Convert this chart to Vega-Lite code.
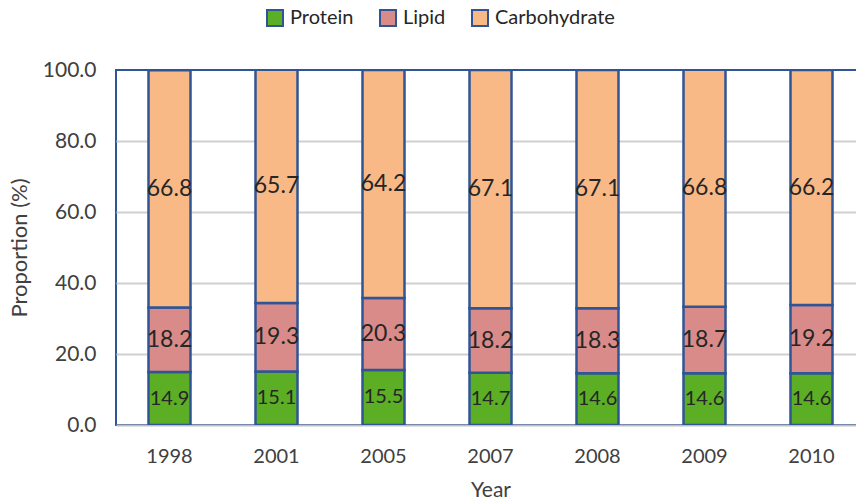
{
  "$schema": "https://vega.github.io/schema/vega-lite/v6.json",
  "autosize": "none",
  "width": 749,
  "height": 355,
  "padding": {"left": 116, "top": 70, "right": 0, "bottom": 77},
  "background": "white",
  "config": {"font": "Lato", "view": {"stroke": "#2F5597", "strokeWidth": 2}},
  "data": {"values": [
    {"year": "1998", "type": "Protein", "value": 14.9},
    {"year": "1998", "type": "Lipid", "value": 18.2},
    {"year": "1998", "type": "Carbohydrate", "value": 66.8},
    {"year": "2001", "type": "Protein", "value": 15.1},
    {"year": "2001", "type": "Lipid", "value": 19.3},
    {"year": "2001", "type": "Carbohydrate", "value": 65.7},
    {"year": "2005", "type": "Protein", "value": 15.5},
    {"year": "2005", "type": "Lipid", "value": 20.3},
    {"year": "2005", "type": "Carbohydrate", "value": 64.2},
    {"year": "2007", "type": "Protein", "value": 14.7},
    {"year": "2007", "type": "Lipid", "value": 18.2},
    {"year": "2007", "type": "Carbohydrate", "value": 67.1},
    {"year": "2008", "type": "Protein", "value": 14.6},
    {"year": "2008", "type": "Lipid", "value": 18.3},
    {"year": "2008", "type": "Carbohydrate", "value": 67.1},
    {"year": "2009", "type": "Protein", "value": 14.6},
    {"year": "2009", "type": "Lipid", "value": 18.7},
    {"year": "2009", "type": "Carbohydrate", "value": 66.8},
    {"year": "2010", "type": "Protein", "value": 14.6},
    {"year": "2010", "type": "Lipid", "value": 19.2},
    {"year": "2010", "type": "Carbohydrate", "value": 66.2}
  ]},
  "transform": [
    {"stack": "value", "groupby": ["year"], "sort": [{"field": "type", "order": "descending"}], "as": ["y0", "y1"]},
    {"calculate": "(datum.y0 + datum.y1) / 2", "as": "mid"}
  ],
  "encoding": {
    "x": {
      "field": "year", "type": "ordinal",
      "scale": {"paddingInner": 0.59, "paddingOuter": 0.295},
      "axis": {
        "labelAngle": 0, "labelFontSize": 20, "labelColor": "#404040", "labelPadding": 21,
        "ticks": false, "domainColor": "#BFBFBF", "domainWidth": 2,
        "title": "Year", "titleFontSize": 21, "titleFontWeight": "normal", "titleColor": "#404040", "titlePadding": 13
      }
    }
  },
  "layer": [
    {
      "mark": {"type": "bar", "stroke": "#2F5597", "strokeWidth": 2.5, "width": 42, "clip": true},
      "encoding": {
        "y": {
          "field": "y0", "type": "quantitative",
          "scale": {"domain": [0, 100]},
          "axis": {
            "values": [0, 20, 40, 60, 80, 100], "format": ".1f",
            "labelFontSize": 21, "labelColor": "#404040", "labelPadding": 20,
            "ticks": false, "domain": false,
            "grid": true, "gridWidth": 2,
            "gridColor": {"condition": {"test": "datum.value === 100 || datum.value === 0", "value": "transparent"}, "value": "#D0D0D0"},
            "title": "Proportion (%)", "titleFontSize": 22, "titleFontWeight": "normal", "titleColor": "#404040", "titlePadding": 11
          }
        },
        "y2": {"field": "y1"},
        "color": {
          "field": "type", "type": "nominal",
          "scale": {"domain": ["Protein", "Lipid", "Carbohydrate"], "range": ["#5CAE24", "#D88B89", "#F9B987"]},
          "legend": {
            "orient": "none", "legendX": 149, "legendY": -62, "direction": "horizontal",
            "title": null, "symbolType": "square", "symbolSize": 256,
            "symbolStrokeColor": "#2F5597", "symbolStrokeWidth": 2, "symbolOpacity": 1,
            "labelFontSize": 20, "labelColor": "#262626", "columnPadding": 22, "labelOffset": 5
          }
        }
      }
    },
    {
      "transform": [{"filter": "datum.type != 'Protein'"}],
      "mark": {"type": "text", "fontSize": 23, "color": "#262626"},
      "encoding": {
        "y": {"field": "mid", "type": "quantitative"},
        "text": {"field": "value", "type": "quantitative", "format": ".1f"}
      }
    },
    {
      "transform": [{"filter": "datum.type == 'Protein'"}],
      "mark": {"type": "text", "fontSize": 20, "color": "#262626"},
      "encoding": {
        "y": {"field": "mid", "type": "quantitative"},
        "text": {"field": "value", "type": "quantitative", "format": ".1f"}
      }
    }
  ]
}
